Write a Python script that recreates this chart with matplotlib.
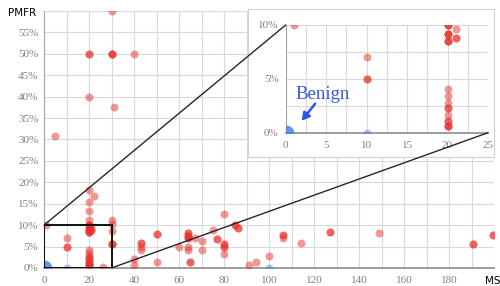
import numpy as np
import matplotlib.pyplot as plt
from matplotlib.patches import Rectangle, ConnectionPatch

# red (pathogenic-ish) points: MS, PMFR(%), count of overlapping points
red_ms = [30, 20, 30, 40, 20, 31, 5, 20, 22, 20, 20, 20,
          20, 20, 20, 21, 21, 1, 10, 10,
          20, 20, 20, 20, 20, 20, 20, 26,
          30, 30, 30, 30, 40, 40, 43, 43, 43, 50, 50, 60,
          64, 64, 64, 64, 64, 65, 67, 70, 70, 75, 77,
          80, 80, 80, 80, 85, 86, 91, 94, 100, 106, 106, 114,
          127, 149, 190.5, 199.5]
red_pmfr = [60, 50, 50, 50, 40, 37.5, 30.8, 18.3, 16.7, 15.4, 13.4, 11.1,
            10, 9.2, 8.5, 9.6, 8.8, 10, 7, 5,
            4.1, 3.4, 2.8, 2.3, 1.6, 1.1, 0.6, 0.3,
            11.1, 10.3, 8.6, 5.7, 2.2, 0.6, 5.8, 4.9, 4.1, 7.9, 1.4, 5.0,
            8.2, 7.5, 7.0, 4.8, 4.1, 1.5, 7.0, 6.4, 4.3, 8.8, 6.7,
            12.7, 5.6, 4.9, 3.2, 10.1, 9.3, 0.8, 1.4, 2.9, 7.6, 7.0, 5.8,
            8.3, 8.2, 5.7, 7.7]
red_count = [1, 2, 3, 1, 1, 1, 1, 1, 1, 1, 1, 1,
             3, 3, 3, 1, 2, 1, 1, 2,
             1, 1, 1, 2, 1, 2, 3, 1,
             1, 1, 1, 3, 1, 1, 2, 1, 1, 2, 1, 1,
             2, 2, 2, 1, 1, 2, 1, 1, 1, 1, 2,
             1, 2, 2, 1, 2, 2, 1, 1, 1, 2, 1, 1,
             2, 1, 2, 2]

# benign points
blue_ms = [0, 10, 100]
blue_pmfr = [0, 0, 0]
blue_count = [3, 1, 1]

x_ticks = [0, 20, 40, 60, 80, 100, 120, 140, 160, 180, 200]
y_ticks = [0, 5, 10, 15, 20, 25, 30, 35, 40, 45, 50, 55, 60]
inset_x_ticks = [0, 5, 10, 15, 20, 25]
inset_y_ticks = [0, 5, 10]

RED = '#E8302A'
BLUE = '#4F7FE0'
GRID = '#d9d9d9'
TICK_FONT = dict(family='Liberation Serif', size=8, color='#808080')

rx = np.repeat(red_ms, red_count)
ry = np.repeat(red_pmfr, red_count)
bcount = np.array(blue_count)
b_size = 33 * (1 + 1.5 * (bcount - 1))
b_alpha = 1 - (1 - 0.45) ** bcount


def draw_points(a):
    for x, y, s, al in zip(blue_ms, blue_pmfr, b_size, b_alpha):
        a.scatter([x], [y], s=s, color=BLUE, alpha=al, linewidths=0, zorder=3)
    a.scatter(rx, ry, s=33, color=RED, alpha=0.5, linewidths=0, zorder=3)


def style_ticks(a):
    a.tick_params(which='both', length=0)
    for lab in a.get_xticklabels() + a.get_yticklabels():
        lab.set_fontfamily(TICK_FONT['family'])
        lab.set_fontsize(TICK_FONT['size'])
        lab.set_color(TICK_FONT['color'])
    for s in ['top', 'right']:
        a.spines[s].set_visible(False)
    a.spines['left'].set_color('#a6a6a6')
    a.spines['bottom'].set_color('#8c8c8c')
    a.spines['bottom'].set_linewidth(1.2)


fig = plt.figure(figsize=(5, 2.86), dpi=100)

# ---- main axes
ax = fig.add_axes([0.088, 0.063, 0.9, 0.8985])
draw_points(ax)
ax.set_xlim(0, 200)
ax.set_ylim(0, 60)
ax.set_xticks(x_ticks)
ax.set_xticklabels([str(v) for v in x_ticks[:-1]] + [''])
ax.set_xticks(np.arange(0, 201, 10), minor=True)
ax.set_yticks(y_ticks)
ax.set_yticklabels(['%d%%' % v for v in y_ticks[:-1]] + [''])
ax.grid(True, which='both', color=GRID, linewidth=0.8)
ax.set_axisbelow(True)
style_ticks(ax)
ax.tick_params(axis='x', pad=6)
ax.tick_params(axis='y', pad=4)
ax.add_patch(Rectangle((0, 0), 30, 10, fill=False, edgecolor='black', lw=1.3, zorder=4))

fig.text(0.016, 0.955, 'PMFR', fontsize=7.5, family='DejaVu Sans', va='center', ha='left')
fig.text(0.97, 0.018, 'MS', fontsize=7.5, family='DejaVu Sans', va='center', ha='left')

# ---- inset frame
frame = fig.add_axes([0.496, 0.451, 0.492, 0.5175])
frame.set_xticks([])
frame.set_yticks([])
frame.set_facecolor('white')
for s in frame.spines.values():
    s.set_color('#d0d0d0')

# ---- inset axes
ins = fig.add_axes([0.5714, 0.536, 0.4046, 0.3766])
draw_points(ins)
ins.set_xlim(0, 25)
ins.set_ylim(0, 10)
ins.set_xticks(inset_x_ticks)
ins.set_yticks(inset_y_ticks)
ins.set_yticklabels(['%d%%' % v for v in inset_y_ticks])
ins.set_xticks(np.arange(0, 25.1, 2.5), minor=True)
ins.set_yticks([2.5, 7.5], minor=True)
ins.grid(True, which='both', color=GRID, linewidth=0.8)
ins.set_axisbelow(True)
style_ticks(ins)
ins.tick_params(axis='x', pad=6)
ins.tick_params(axis='y', pad=5)

ins.text(1.15, 3.1, 'Benign', color='#2F55E8', fontsize=13.5, family='Liberation Serif')
ins.annotate('', xy=(1.75, 0.9), xytext=(3.85, 2.9),
             arrowprops=dict(arrowstyle='-|>,head_width=0.25,head_length=0.45',
                             color='#2F55E8', lw=1.8))

# ---- zoom connectors
for (x0, y0), (x1, y1) in [((0, 10), (0, 10)), ((30, 0), (25, 0))]:
    con = ConnectionPatch(xyA=(x0, y0), coordsA=ax.transData,
                          xyB=(x1, y1), coordsB=ins.transData,
                          color='#262626', lw=1.0)
    con.set_zorder(10)
    fig.add_artist(con)

fig.savefig('out.png', dpi=100)
